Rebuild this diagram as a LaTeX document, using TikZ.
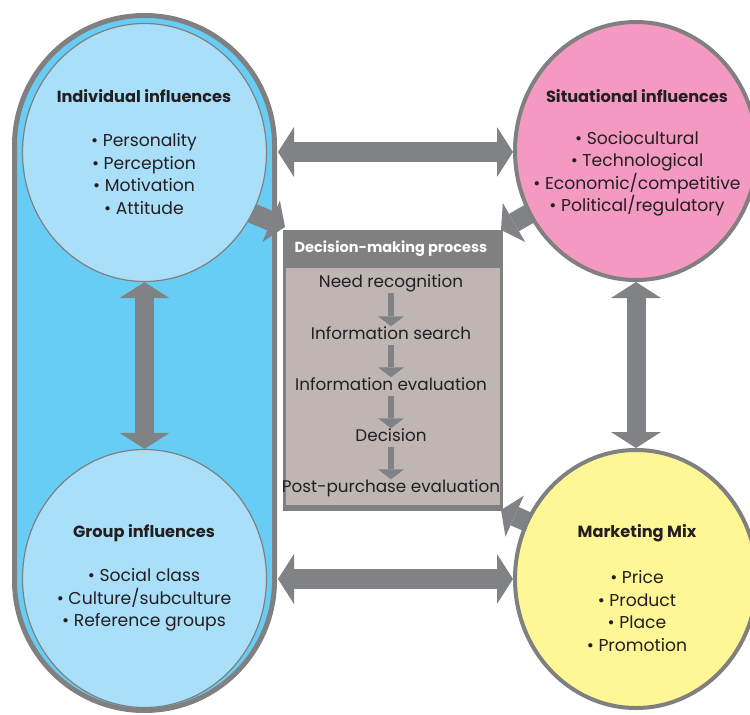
\documentclass[tikz,border=0pt]{standalone}
\usepackage{fontspec}
\setmainfont{Poppins}
\usetikzlibrary{arrows.meta,shapes.geometric}
\definecolor{stad}{RGB}{104,205,245}
\definecolor{lblue}{RGB}{170,223,250}
\definecolor{cpink}{RGB}{244,154,194}
\definecolor{cyell}{RGB}{255,246,150}
\definecolor{bgray}{RGB}{128,128,128}
\definecolor{agray}{RGB}{128,130,134}
\definecolor{boxbody}{RGB}{191,182,179}
\definecolor{txt}{RGB}{35,31,32}
\begin{document}
\begin{tikzpicture}[x=1pt,y=-1pt,
  every node/.style={inner sep=0pt, align=center, text=txt},
  fat/.style={line width=20pt, draw=agray},
  bighead/.tip={Triangle[length=16pt,width=50pt,line width=0pt]},
  diaghead/.tip={Triangle[length=15pt,width=45pt,line width=0pt]},
  smallhead/.tip={Triangle[length=10pt,width=26pt,line width=0pt]},
  inner/.style={ellipse, draw=bgray, line width=1.2pt, fill=lblue, minimum width=244pt, minimum height=258pt},
  outer/.style={ellipse, draw=bgray, line width=4pt, minimum width=242pt, minimum height=258pt},
  title/.style={font=\fontsize{16.2}{18}\selectfont\bfseries},
  item/.style={font=\fontsize{17.2}{22.5}\selectfont},
  stepnode/.style={font=\fontsize{16.8}{18}\selectfont, text height=11.5pt, text depth=3.5pt},
  small/.style={line width=6pt, draw=agray}]
\useasboundingbox (0,0) rectangle (750,715);
\clip (0,0) rectangle (750,715);
% large blue stadium
\node[draw=bgray, line width=5pt, fill=stad, rounded corners=130pt,
  minimum width=260pt, minimum height=695pt] (stadium) at (144.5,363) {};
% diagonal arrows into the decision box (behind circles)
\coordinate (d1s) at (235,206);
\coordinate (d1e) at (285,227);
\coordinate (d2s) at (548,203);
\coordinate (d2e) at (501,230);
\coordinate (d3s) at (550,532);
\coordinate (d3e) at (501,510);
\draw[fat, -{diaghead}] (d1s) -- (d1e);
\draw[fat, -{diaghead}] (d2s) -- (d2e);
\draw[fat, -{diaghead}] (d3s) -- (d3e);
% circles
\node[inner] (ind) at (144.5,152.5) {};
\node[inner] (grp) at (144.5,578.5) {};
\node[outer, fill=cpink] (sit) at (636,151) {};
\node[outer, fill=cyell] (mkt) at (636,579) {};
% circle texts
\node[title] (indt) at (144,96) {Individual influences};
\node[item] (indi) at (144,174) {• Personality\\• Perception\\• Motivation\\• Attitude};
\node[title] (sitt) at (637,96) {Situational influences};
\node[item] (siti) at (637,174) {• Sociocultural\\• Technological\\• Economic/competitive\\• Political/regulatory};
\node[title] (grpt) at (144,533) {Group influences};
\node[item] (grpi) at (144,600) {• Social class\\• Culture/subculture\\• Reference groups};
\node[title] (mktt) at (637,533) {Marketing Mix};
\node[item] (mkti) at (637,611) {• Price\\• Product\\• Place\\• Promotion};
% decision box
\node[draw=bgray, line width=3pt, fill=boxbody, minimum width=217pt, minimum height=275pt] (box) at (393,369) {};
\node[fill=bgray, minimum width=217pt, minimum height=36pt, anchor=north] (head) at ([yshift=-1.5pt]box.north) {};
\draw[bgray, line width=3pt] (box.north west) ++(1.5,1.5) rectangle ([xshift=-1.5pt,yshift=-1.5pt]box.south east);
\node[font=\fontsize{14.5}{18}\selectfont\bfseries, text=white] (headt) at (391,249) {Decision-making process};
\node[stepnode] (s1) at (391,283) {Need recognition};
\node[stepnode] (s2) at (391,335) {Information search};
\node[stepnode] (s3) at (391,386) {Information evaluation};
\node[stepnode] (s4) at (391,437) {Decision};
\node[stepnode] (s5) at (391,488) {Post-purchase evaluation};
\draw[small, -{smallhead}, shorten <=2pt, shorten >=1pt] (s1) -- (s2);
\draw[small, -{smallhead}, shorten <=2pt, shorten >=1pt] (s2) -- (s3);
\draw[small, -{smallhead}, shorten <=2pt, shorten >=1pt] (s3) -- (s4);
\draw[small, -{smallhead}, shorten <=2pt, shorten >=1pt] (s4) -- (s5);
% double arrows
\coordinate (h1a) at (278,152);
\coordinate (h2a) at (278,579);
\draw[fat, {bighead}-{bighead}] (h1a) -- (sit.west |- h1a);
\draw[fat, {bighead}-{bighead}] (h2a) -- (mkt.west |- h2a);
\draw[fat, line width=19pt, {bighead}-{bighead}] (ind.south) -- (grp.north);
\draw[fat, line width=19pt, {bighead}-{bighead}] (sit.south) -- (mkt.north);
\end{tikzpicture}
\end{document}
